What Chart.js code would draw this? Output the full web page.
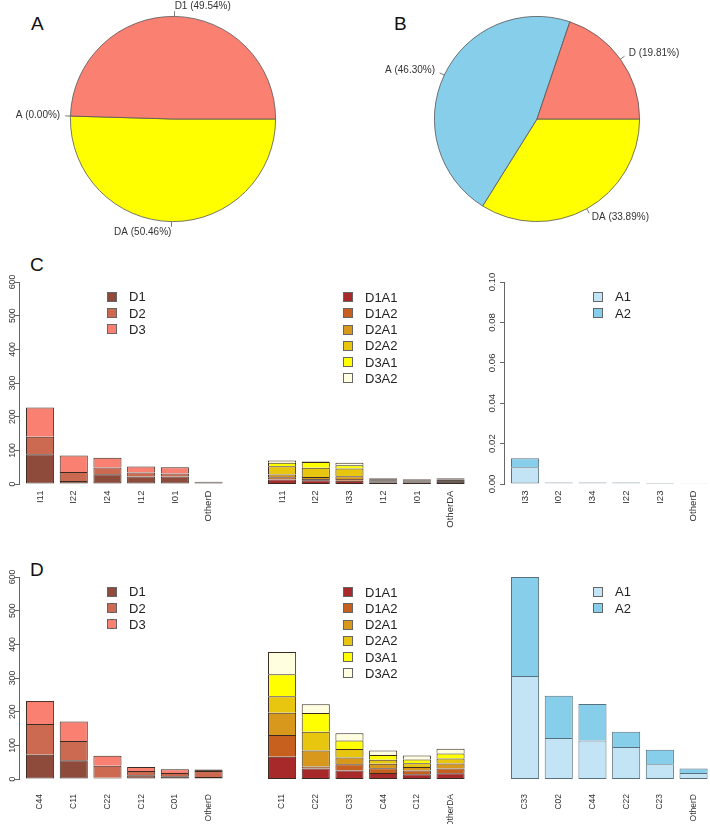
<!DOCTYPE html>
<html>
<head>
<meta charset="utf-8">
<script src="https://cdn.jsdelivr.net/npm/chart.js@4.4.1/dist/chart.umd.min.js"></script>
<style>
  body { margin: 0; background: #fff; }
  #page { position: relative; width: 710px; height: 826px; overflow: hidden; font-family: "Liberation Sans", Arial, sans-serif; }
  canvas { position: absolute; }
  .tag { position: absolute; font-size: 19px; line-height: 19px; color: #111; }
  .legend { position: absolute; font-size: 13px; line-height: 13px; color: #222; }
  .legend div { height: 16.2px; display: flex; align-items: center; }
  .legend .box { width: 10px; height: 10px; box-sizing: border-box; border: 1px solid #666; margin-right: 12px; }
</style>
</head>
<body>
<div id="page">
  <div class="tag" style="left:31px; top:14px;">A</div>
  <div class="tag" style="left:394px; top:14px;">B</div>
  <div class="tag" style="left:30px; top:255px;">C</div>
  <div class="tag" style="left:30px; top:560px;">D</div>
</div>
<script>
'use strict';

// ---- data ----
// pies (percent)
const pieALabels = ['D1', 'A', 'DA'];
const pieAValues = [49.54, 0.00, 50.46];
const pieBLabels = ['D', 'A', 'DA'];
const pieBValues = [19.81, 46.30, 33.89];

// row C, left: D
const cDCats = ['I11', 'I22', 'I24', 'I12', 'I01', 'OtherD'];
const cD1 = [88, 9, 29, 22, 22, 3];
const cD2 = [52, 27, 20, 12, 9, 2];
const cD3 = [87, 49, 29, 18, 19, 2];

// row C, middle: DA
const cDACats = ['I11', 'I22', 'I33', 'I12', 'I01', 'OtherDA'];
const cD1A1 = [13, 11, 10, 4, 3, 3];
const cD1A2 = [7, 4, 5, 3, 2, 3];
const cD2A1 = [8, 6, 8, 3, 3, 3];
const cD2A2 = [25, 27, 23, 4, 3, 4];
const cD3A1 = [10, 17, 10, 2, 2, 3];
const cD3A2 = [7, 2, 7, 2, 2, 2];

// row C, right: A
const cACats = ['I33', 'I02', 'I34', 'I22', 'I23', 'OtherD'];
const cA1 = [0.0083, 0.0004, 0.0004, 0.0004, 0.0003, 0.0003];
const cA2 = [0.0044, 0.0003, 0.0003, 0.0003, 0.0002, 0.0001];

// row D, left: D
const dDCats = ['C44', 'C11', 'C22', 'C12', 'C01', 'OtherD'];
const dD1 = [72, 56, 4, 11, 8, 6];
const dD2 = [91, 57, 35, 13, 10, 18];
const dD3 = [69, 58, 30, 12, 11, 4];

// row D, middle: DA
const dDACats = ['C11', 'C22', 'C33', 'C44', 'C12', 'OtherDA'];
const dD1A1 = [66, 31, 25, 18, 14, 17];
const dD1A2 = [65, 6, 19, 14, 11, 14];
const dD2A1 = [66, 48, 20, 13, 11, 15];
const dD2A2 = [49, 55, 25, 12, 11, 15];
const dD3A1 = [65, 56, 25, 14, 11, 15];
const dD3A2 = [66, 26, 22, 14, 12, 14];

// row D, right: A
const dACats = ['C33', 'C02', 'C44', 'C22', 'C23', 'OtherD'];
const dA1 = [306, 122, 114, 95, 44, 18];
const dA2 = [294, 125, 109, 45, 43, 13];

// ---- colours ----
const salmon = '#FA8072', sky = '#87CEEB', yellow = '#FFFF00';
const colD = ['#8E4A3B', '#CB6A50', '#FA8072'];
const colDA = ['#A8292A', '#C7601F', '#D7981C', '#E8C60F', '#FFFF00', '#FFFFE0'];
const colA = ['#C3E4F4', '#87CEEB'];
const edgeBrown = '#3b2a22';
const edgeBlue = '#56717d';

Chart.defaults.font.family = '"Liberation Sans", Arial, sans-serif';

const page = document.getElementById('page');

function addCanvas(left, top, w, h) {
  const c = document.createElement('canvas');
  c.width = w; c.height = h;
  c.style.left = left + 'px'; c.style.top = top + 'px';
  c.style.width = w + 'px'; c.style.height = h + 'px';
  page.appendChild(c);
  return c;
}

// labels like R's pie(): short tick + text outside
const pieLabels = {
  id: 'pieLabels',
  afterDatasetsDraw(chart) {
    const ctx = chart.ctx;
    const values = chart.data.datasets[0].data;
    ctx.save();
    ctx.font = '10px "Liberation Sans", Arial, sans-serif';
    ctx.fillStyle = '#333';
    ctx.strokeStyle = '#555';
    ctx.lineWidth = 0.8;
    ctx.textBaseline = 'middle';
    chart.getDatasetMeta(0).data.forEach((arc, i) => {
      const p = arc.getProps(['x', 'y', 'startAngle', 'endAngle', 'outerRadius']);
      const mid = (p.startAngle + p.endAngle) / 2;
      const c = Math.cos(mid), s = Math.sin(mid), r = p.outerRadius;
      ctx.beginPath();
      ctx.moveTo(p.x + c * r, p.y + s * r);
      ctx.lineTo(p.x + c * r * 1.05, p.y + s * r * 1.05);
      ctx.stroke();
      ctx.textAlign = c > 0 ? 'left' : 'right';
      const txt = chart.data.labels[i] + ' (' + values[i].toFixed(2) + '%)';
      ctx.fillText(txt, p.x + c * r * 1.1, p.y + s * r * 1.1);
    });
    ctx.restore();
  }
};

function makePie(left, labels, values, colors, padL, padR) {
  const cv = addCanvas(left, 0, 355, 240);
  // R goes counter-clockwise from 3 o'clock, Chart.js clockwise -> reverse order
  new Chart(cv, {
    type: 'pie',
    data: {
      labels: labels.slice().reverse(),
      datasets: [{
        data: values.slice().reverse(),
        backgroundColor: colors.slice().reverse(),
        borderColor: '#555',
        borderWidth: 0.8
      }]
    },
    options: {
      responsive: false,
      animation: false,
      events: [],
      rotation: 90,
      layout: { padding: { left: padL, right: padR, top: 16, bottom: 18 } },
      plugins: { legend: { display: false }, tooltip: { enabled: false } }
    },
    plugins: [pieLabels]
  });
}

makePie(0, pieALabels, pieAValues, [salmon, sky, yellow], 70, 79);
makePie(355, pieBLabels, pieBValues, [salmon, sky, yellow], 79, 70);

function addLegend(left, firstY, names, colors) {
  const box = document.createElement('div');
  box.className = 'legend';
  box.style.left = left + 'px';
  box.style.top = (firstY - 8.1) + 'px';
  names.forEach((n, i) => {
    const row = document.createElement('div');
    const sq = document.createElement('span');
    sq.className = 'box';
    sq.style.background = colors[i];
    row.appendChild(sq);
    row.appendChild(document.createTextNode(n));
    box.appendChild(row);
  });
  page.appendChild(box);
}

// barplot in R units: bar i centred at 0.7 + 1.2*i, width 1
const PLOT_W = 205;
const CHART_H = 202;
const X_AXIS_H = 45;

function makeBar(cfg) {
  const axisW = cfg.showY ? cfg.axisW : 0;
  const cv = addCanvas(cfg.left - axisW, cfg.top, PLOT_W + axisW, cfg.padTop + CHART_H + X_AXIS_H);
  const datasets = cfg.series.map((s, k) => ({
    label: s.label,
    data: s.data.map((v, i) => ({ x: 0.7 + 1.2 * i, y: v })),
    // segments thinner than ~1.6px are all outline in R's output
    backgroundColor: c => (c.raw && c.raw.y / cfg.yMax * CHART_H < 1.6) ? cfg.edge : s.color,
    borderColor: cfg.edge,
    borderWidth: { top: 1, left: 1, right: 1, bottom: k === 0 ? 1 : 0 },
    borderSkipped: false,
    stack: 'a',
    barPercentage: 1,
    categoryPercentage: 1 / 1.2
  }));
  new Chart(cv, {
    type: 'bar',
    data: { datasets },
    options: {
      responsive: false,
      animation: false,
      events: [],
      layout: { padding: { top: cfg.padTop, left: 0, right: 0, bottom: 0 } },
      plugins: { legend: { display: false }, tooltip: { enabled: false } },
      scales: {
        x: {
          type: 'linear',
          offset: false,
          bounds: 'data',
          min: -0.05,
          max: 7.25,
          grid: { display: false, drawTicks: false, offset: false },
          border: { display: false },
          afterBuildTicks: scale => {
            scale.ticks = cfg.cats.map((c, i) => ({ value: 0.7 + 1.2 * i }));
          },
          ticks: {
            autoSkip: false,
            minRotation: 90,
            maxRotation: 90,
            padding: cfg.xPad,
            color: '#333',
            font: { size: cfg.xFont },
            callback: (v, i) => cfg.cats[i]
          },
          afterFit: scale => {
            scale.height = X_AXIS_H;
            scale.paddingLeft = 0;
            scale.paddingRight = 0;
          }
        },
        y: {
          display: cfg.showY,
          stacked: true,
          min: 0,
          max: cfg.yMax,
          grid: { drawOnChartArea: false, drawTicks: true, tickLength: 4, color: '#666' },
          border: { display: true, color: '#666' },
          ticks: {
            stepSize: cfg.yStep,
            minRotation: 90,
            maxRotation: 90,
            crossAlign: 'center',
            padding: cfg.yPad || 0,
            color: '#333',
            font: { size: cfg.yFont || 9 },
            callback: cfg.yFmt || (v => v)
          },
          afterFit: scale => {
            scale.width = axisW;
            scale.paddingTop = 0;
            scale.paddingBottom = 0;
          }
        }
      }
    }
  });
}

const namesD = ['D1', 'D2', 'D3'];
const namesDA = ['D1A1', 'D1A2', 'D2A1', 'D2A2', 'D3A1', 'D3A2'];
const namesA = ['A1', 'A2'];

function seriesOf(names, arrays, colors) {
  return names.map((n, i) => ({ label: n, data: arrays[i], color: colors[i] }));
}

// row C
makeBar({ left: 19, top: 270, padTop: 12, axisW: 19, showY: true, yMax: 600, yStep: 100, yPad: -4.6, yFont: 8.8,
  xPad: 6.5, xFont: 9.6, cats: cDCats, edge: edgeBrown, series: seriesOf(namesD, [cD1, cD2, cD3], colD) });
makeBar({ left: 261, top: 270, padTop: 12, showY: false, yMax: 600, yStep: 100,
  xPad: 6.5, xFont: 9.6, cats: cDACats, edge: edgeBrown,
  series: seriesOf(namesDA, [cD1A1, cD1A2, cD2A1, cD2A2, cD3A1, cD3A2], colDA) });
makeBar({ left: 504, top: 270, padTop: 12, axisW: 34, showY: true, yMax: 0.1, yStep: 0.02, yPad: -1.2, yFont: 9.6,
  yFmt: v => v.toFixed(2), xPad: 6.5, xFont: 9.6, cats: cACats, edge: edgeBlue, series: seriesOf(namesA, [cA1, cA2], colA) });

// row D
makeBar({ left: 19, top: 565, padTop: 12, axisW: 19, showY: true, yMax: 600, yStep: 100, yPad: -4.6, yFont: 8.8,
  xPad: 15, xFont: 8.5, cats: dDCats, edge: edgeBrown, series: seriesOf(namesD, [dD1, dD2, dD3], colD) });
makeBar({ left: 261, top: 565, padTop: 12, showY: false, yMax: 600, yStep: 100,
  xPad: 15, xFont: 8.5, cats: dDACats, edge: edgeBrown,
  series: seriesOf(namesDA, [dD1A1, dD1A2, dD2A1, dD2A2, dD3A1, dD3A2], colDA) });
makeBar({ left: 504, top: 565, padTop: 12, showY: false, yMax: 600, yStep: 100,
  xPad: 15, xFont: 8.5, cats: dACats, edge: edgeBlue, series: seriesOf(namesA, [dA1, dA2], colA) });

// legends
addLegend(107, 297, namesD, colD);
addLegend(343, 297.3, namesDA, colDA);
addLegend(593, 297, namesA, colA);
addLegend(107, 592, namesD, colD);
addLegend(343, 592.3, namesDA, colDA);
addLegend(593, 592, namesA, colA);
</script>
</body>
</html>
